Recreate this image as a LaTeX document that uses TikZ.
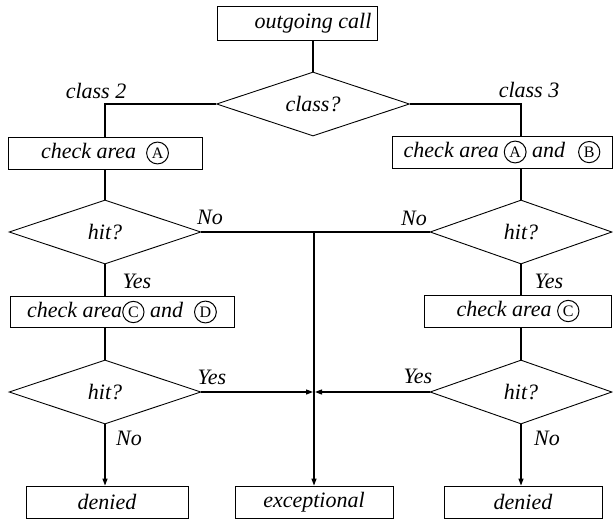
\documentclass[tikz,border=0pt]{standalone}
\usepackage{fontspec}
\setmainfont{Liberation Serif}
\usetikzlibrary{shapes.geometric,arrows.meta}
\newcommand\cl[1]{\tikz[baseline=(cc.base)]\node[draw,circle,minimum width=0pt,minimum height=0pt,minimum size=0pt,line width=1pt,inner sep=2.2pt,font=\fontsize{16}{16}\selectfont\upshape](cc){#1};}
\tikzset{
  bx/.style={draw, rectangle, line width=0.9pt, inner sep=0pt, minimum height=32pt},
  dia/.style={draw, diamond, line width=0.9pt, inner sep=0pt, minimum width=192pt, minimum height=64pt},
  lbl/.style={inner sep=0pt},
  ln/.style={line width=1.2pt},
  ar/.style={line width=1.2pt, -{Triangle[length=7pt,width=5pt]}}
}
\begin{document}
\begin{tikzpicture}[x=1pt,y=-1pt,font=\itshape\fontsize{22}{26}\selectfont]
\useasboundingbox (0,0) rectangle (613,519);
% boxes and decisions
\node[bx,minimum width=160pt,minimum height=34pt,label={[xshift=16pt]center:outgoing call}] (out) at (297,23) {};
\node[dia,minimum width=193pt,label=center:class?] (cls) at (313,104) {};
\node[lbl] (c2) at (96,91) {class 2};
\node[lbl] (c3) at (529,90) {class 3};
\node[bx,minimum width=194pt] (ckA) at (105,153) {check area\hspace{10pt}\cl{A}};
\node[bx,minimum width=220pt] (ckAB) at (502,152) {check area\hspace{5pt}\cl{A} and\hspace{13pt}\cl{B}};
\node[dia,label=center:hit?] (hit1) at (105,232) {};
\node[dia,minimum width=182pt,label=center:hit?] (hit2) at (521,232) {};
\node[lbl] (no1) at (210,217) {No};
\node[lbl] (no2) at (414,218) {No};
\node[lbl] (yes1) at (137,281) {Yes};
\node[lbl] (yes2) at (549,281) {Yes};
\node[bx,minimum width=224pt,minimum height=31pt] (ckCD) at (122,312) {check area\cl{C} and\hspace{11pt}\cl{D}};
\node[bx,minimum width=187pt] (ckC) at (518,311) {check area \cl{C}};
\node[dia,label=center:hit?] (hit3) at (105,392) {};
\node[dia,minimum width=182pt,label=center:hit?] (hit4) at (521,392) {};
\node[lbl] (yes3) at (212,377) {Yes};
\node[lbl] (yes4) at (418,376) {Yes};
\node[lbl] (no3) at (129,438) {No};
\node[lbl] (no4) at (547,438) {No};
\node[bx,minimum width=162pt] (den1) at (107,502) {denied};
\node[bx,minimum width=158pt] (exc) at (314,502) {exceptional};
\node[bx,minimum width=158pt] (den2) at (523,502) {denied};
% connectors
\draw[ln] (cls.north |- out.south) -- (cls.north);
\draw[ln] (cls.west) -| (ckA.north);
\draw[ln] (cls.east) -| (hit2.north |- ckAB.north);
\draw[ln] (ckA.south) -- (hit1.north);
\draw[ln] (hit2.north |- ckAB.south) -- (hit2.north);
\draw[ln] (hit1.south) -- (hit1.south |- ckCD.north);
\draw[ln] (hit2.south) -- (hit2.south |- ckC.north);
\draw[ln] (hit3.north |- ckCD.south) -- (hit3.north);
\draw[ln] (hit4.north |- ckC.south) -- (hit4.north);
\draw[ln] (hit1.east) -- (hit2.west);
\coordinate (j) at (exc.north |- hit1.east);
\coordinate (k) at (exc.north |- hit3.east);
\draw[ar] (j) -- (exc.north);
\draw[ar] (hit3.east) -- ([xshift=-1pt]k);
\draw[ar] (hit4.west) -- ([xshift=1pt]k);
\draw[ar] (hit3.south) -- (hit3.south |- den1.north);
\draw[ar] (hit4.south) -- (hit4.south |- den2.north);
\end{tikzpicture}
\end{document}
